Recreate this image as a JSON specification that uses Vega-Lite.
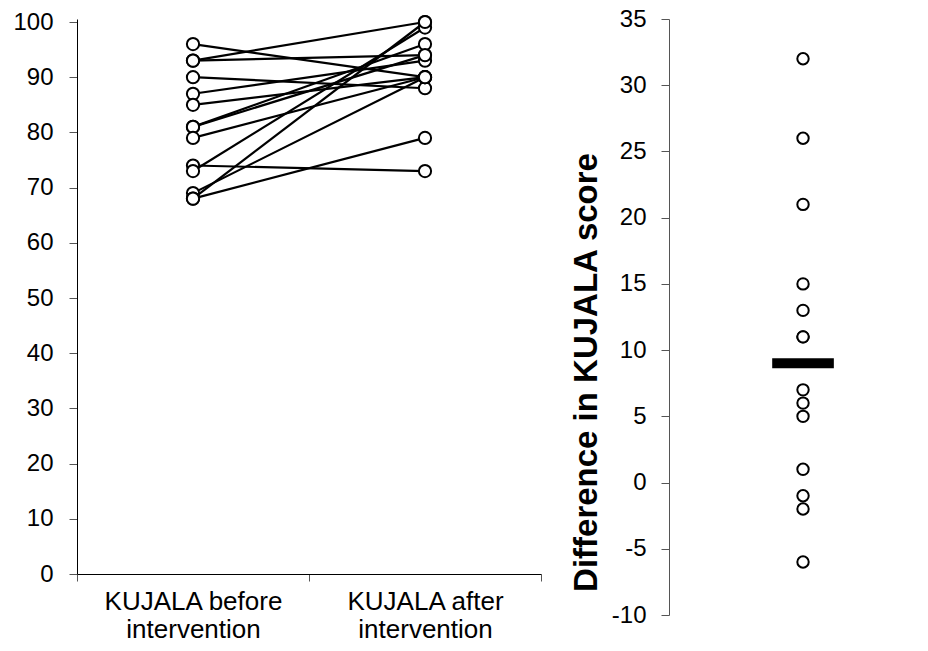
{
  "$schema": "https://vega.github.io/schema/vega-lite/v6.json",
  "autosize": {"type": "pad"},
  "padding": {"left": 12, "top": 7, "right": 0, "bottom": 0},
  "background": "white",
  "bounds": "flush",
  "spacing": 128,
  "config": {
    "font": "Liberation Sans",
    "view": {"stroke": null},
    "axis": {"grid": false, "labelColor": "black", "titleColor": "black", "labelFont": "Liberation Sans", "titleFont": "Liberation Sans"}
  },
  "datasets": {
    "scores": [
      {"subject": 1, "t": 1, "score": 96}, {"subject": 1, "t": 2, "score": 90},
      {"subject": 2, "t": 1, "score": 93}, {"subject": 2, "t": 2, "score": 100},
      {"subject": 3, "t": 1, "score": 93}, {"subject": 3, "t": 2, "score": 94},
      {"subject": 4, "t": 1, "score": 90}, {"subject": 4, "t": 2, "score": 88},
      {"subject": 5, "t": 1, "score": 87}, {"subject": 5, "t": 2, "score": 93},
      {"subject": 6, "t": 1, "score": 85}, {"subject": 6, "t": 2, "score": 90},
      {"subject": 7, "t": 1, "score": 81}, {"subject": 7, "t": 2, "score": 96},
      {"subject": 8, "t": 1, "score": 81}, {"subject": 8, "t": 2, "score": 94},
      {"subject": 9, "t": 1, "score": 79}, {"subject": 9, "t": 2, "score": 90},
      {"subject": 10, "t": 1, "score": 74}, {"subject": 10, "t": 2, "score": 73},
      {"subject": 11, "t": 1, "score": 73}, {"subject": 11, "t": 2, "score": 99},
      {"subject": 12, "t": 1, "score": 69}, {"subject": 12, "t": 2, "score": 90},
      {"subject": 13, "t": 1, "score": 68}, {"subject": 13, "t": 2, "score": 100},
      {"subject": 14, "t": 1, "score": 68}, {"subject": 14, "t": 2, "score": 79}
    ],
    "diffs": [
      {"subject": 1, "diff": -6}, {"subject": 2, "diff": 7}, {"subject": 3, "diff": 1},
      {"subject": 4, "diff": -2}, {"subject": 5, "diff": 6}, {"subject": 6, "diff": 5},
      {"subject": 7, "diff": 15}, {"subject": 8, "diff": 13}, {"subject": 9, "diff": 11},
      {"subject": 10, "diff": -1}, {"subject": 11, "diff": 26}, {"subject": 12, "diff": 21},
      {"subject": 13, "diff": 32}, {"subject": 14, "diff": 11}
    ],
    "mean": [{"mean": 9}]
  },
  "hconcat": [
    {
      "width": 464,
      "height": 555,
      "data": {"name": "scores"},
      "encoding": {
        "x": {
          "field": "t", "type": "quantitative",
          "scale": {"domain": [0.5, 2.5], "nice": false, "zero": false},
          "axis": {
            "title": null,
            "values": [0.5, 1, 1.5, 2, 2.5],
            "domainColor": "black", "domainWidth": 1,
            "tickColor": {"condition": {"test": "datum.value == 1 || datum.value == 2", "value": "transparent"}, "value": "#555555"},
            "tickSize": 7,
            "labelExpr": "datum.value == 1 ? ['KUJALA before', 'intervention'] : datum.value == 2 ? ['KUJALA after', 'intervention'] : ''",
            "labelFontSize": 26,
            "labelLineHeight": 28,
            "labelPadding": 7,
            "labelFlush": false,
            "labelOverlap": false
          }
        },
        "y": {
          "field": "score", "type": "quantitative",
          "scale": {"domain": [0, 100.5435], "nice": false},
          "axis": {
            "title": null,
            "values": [0, 10, 20, 30, 40, 50, 60, 70, 80, 90, 100],
            "domainColor": "black", "domainWidth": 1,
            "tickColor": "#555555", "tickSize": 8,
            "labelFontSize": 24, "labelPadding": 16
          }
        }
      },
      "layer": [
        {"mark": {"type": "line", "color": "black", "strokeWidth": 2.2}, "encoding": {"detail": {"field": "subject"}}},
        {"mark": {"type": "point", "shape": "circle", "filled": true, "fill": "white", "stroke": "black", "strokeWidth": 2, "size": 150, "opacity": 1}}
      ]
    },
    {
      "width": 260,
      "height": 596,
      "layer": [
        {
          "mark": {"type": "rule", "color": "#a0a0a0", "strokeWidth": 1.5},
          "encoding": {"y": {"datum": 0, "type": "quantitative"}}
        },
        {
          "data": {"name": "diffs"},
          "mark": {"type": "point", "shape": "circle", "filled": true, "fill": "white", "stroke": "black", "strokeWidth": 2, "size": 130, "opacity": 1},
          "encoding": {
            "x": {"datum": 1, "type": "quantitative", "scale": {"domain": [0, 1.94], "nice": false, "zero": false}, "axis": null},
            "y": {
              "field": "diff", "type": "quantitative",
              "scale": {"domain": [-10, 35], "nice": false, "zero": false},
              "axis": {
                "title": "Difference in KUJALA score",
                "titleFontSize": 33, "titleFontWeight": "bold", "titlePadding": 8,
                "titleY": 353,
                "values": [-10, -5, 0, 5, 10, 15, 20, 25, 30, 35],
                "labelExpr": "toString(datum.value)",
                "domainColor": "#555555", "domainWidth": 1,
                "tickColor": "#555555", "tickSize": 8,
                "labelFontSize": 24, "labelPadding": 15
              }
            }
          }
        },
        {
          "data": {"name": "mean"},
          "mark": {"type": "rule", "color": "black", "strokeWidth": 10, "strokeCap": "butt"},
          "encoding": {
            "x": {"datum": 0.77, "type": "quantitative"},
            "x2": {"datum": 1.23},
            "y": {"field": "mean", "type": "quantitative"}
          }
        }
      ]
    }
  ]
}
